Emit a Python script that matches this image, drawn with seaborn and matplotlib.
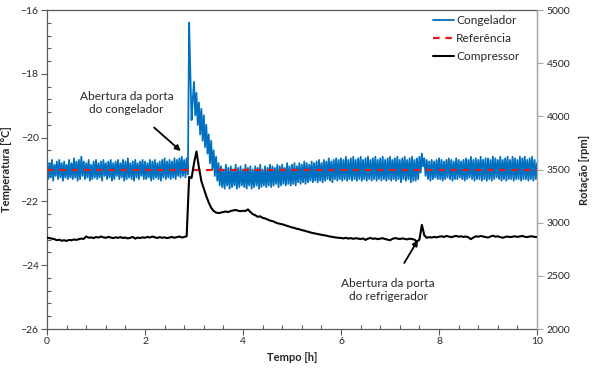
import numpy as np
import pandas as pd
import seaborn as sns
import matplotlib.pyplot as plt
from matplotlib.ticker import MultipleLocator

# Congelador temperature [°C], read every 0.025 h from 0 to 10 h (one row = 0.5 h)
tempo_congelador = np.linspace(0, 10, 401)
temp_congelador = [
    -20.75, -21.30, -20.80, -21.25, -20.70, -21.35, -20.85, -21.20, -20.75, -21.30, -20.70, -21.25, -20.80, -21.35, -20.75, -21.25, -20.85, -21.30, -20.70, -21.25,
    -20.80, -21.30, -20.65, -21.25, -20.75, -21.35, -20.70, -21.30, -20.60, -21.20, -20.75, -21.30, -20.80, -21.25, -20.70, -21.35, -20.85, -21.30, -20.75, -21.25,
    -20.70, -21.30, -20.80, -21.25, -20.75, -21.35, -20.70, -21.20, -20.80, -21.30, -20.75, -21.25, -20.70, -21.35, -20.80, -21.30, -20.75, -21.20, -20.70, -21.30,
    -20.80, -21.25, -20.70, -21.35, -20.75, -21.30, -20.65, -21.25, -20.80, -21.30, -20.75, -21.35, -20.70, -21.25, -20.80, -21.30, -20.75, -21.20, -20.70, -21.30,
    -20.75, -21.30, -20.80, -21.25, -20.70, -21.35, -20.75, -21.30, -20.70, -21.25, -20.80, -21.30, -20.75, -21.35, -20.70, -21.25, -20.65, -21.30, -20.75, -21.25,
    -20.70, -21.30, -20.75, -21.25, -20.65, -21.30, -20.70, -21.20, -20.65, -21.25, -20.60, -21.20, -20.70, -21.25, -20.65, -21.15, -16.40, -18.00, -19.45, -18.80,
    -18.25, -19.30, -18.60, -19.60, -18.90, -19.90, -19.10, -20.10, -19.30, -20.30, -19.60, -20.50, -19.90, -20.80, -20.10, -21.00, -20.40, -21.20, -20.60, -21.35,
    -20.80, -21.50, -20.90, -21.55, -21.00, -21.60, -20.85, -21.50, -20.95, -21.60, -20.90, -21.55, -21.00, -21.50, -20.85, -21.60, -20.95, -21.55, -20.90, -21.50,
    -21.00, -21.55, -20.85, -21.60, -20.95, -21.50, -20.90, -21.60, -21.00, -21.55, -20.90, -21.50, -20.95, -21.60, -20.85, -21.55, -21.00, -21.50, -20.90, -21.55,
    -20.95, -21.50, -20.85, -21.55, -20.90, -21.50, -20.95, -21.45, -20.85, -21.55, -20.90, -21.50, -20.85, -21.45, -20.95, -21.50, -20.80, -21.45, -20.90, -21.50,
    -20.85, -21.45, -20.80, -21.50, -20.90, -21.40, -20.80, -21.45, -20.85, -21.40, -20.75, -21.45, -20.80, -21.40, -20.85, -21.35, -20.75, -21.40, -20.80, -21.35,
    -20.75, -21.40, -20.70, -21.35, -20.80, -21.40, -20.70, -21.35, -20.75, -21.30, -20.65, -21.35, -20.75, -21.40, -20.70, -21.30, -20.65, -21.35, -20.70, -21.30,
    -20.65, -21.35, -20.70, -21.30, -20.60, -21.35, -20.70, -21.30, -20.65, -21.35, -20.60, -21.30, -20.70, -21.35, -20.65, -21.30, -20.60, -21.35, -20.70, -21.30,
    -20.65, -21.35, -20.60, -21.30, -20.70, -21.35, -20.65, -21.30, -20.60, -21.35, -20.70, -21.30, -20.65, -21.35, -20.60, -21.30, -20.70, -21.35, -20.65, -21.30,
    -20.60, -21.35, -20.70, -21.30, -20.65, -21.35, -20.60, -21.30, -20.70, -21.40, -20.65, -21.30, -20.60, -21.35, -20.70, -21.30, -20.65, -21.40, -20.60, -21.35,
    -20.70, -21.35, -20.65, -21.30, -20.60, -21.10, -20.50, -20.90, -20.65, -21.20, -20.70, -21.30, -20.75, -21.35, -20.70, -21.30, -20.75, -21.25, -20.70, -21.30,
    -20.65, -21.30, -20.70, -21.35, -20.75, -21.30, -20.70, -21.25, -20.65, -21.30, -20.70, -21.35, -20.75, -21.30, -20.65, -21.30, -20.70, -21.25, -20.75, -21.30,
    -20.70, -21.35, -20.65, -21.30, -20.70, -21.25, -20.60, -21.30, -20.70, -21.35, -20.65, -21.30, -20.70, -21.30, -20.60, -21.35, -20.70, -21.30, -20.65, -21.35,
    -20.65, -21.30, -20.70, -21.35, -20.60, -21.30, -20.65, -21.25, -20.70, -21.30, -20.60, -21.35, -20.70, -21.30, -20.65, -21.35, -20.60, -21.30, -20.70, -21.30,
    -20.60, -21.35, -20.65, -21.30, -20.70, -21.30, -20.60, -21.35, -20.65, -21.30, -20.60, -21.30, -20.70, -21.35, -20.65, -21.30, -20.60, -21.35, -20.70, -21.30,
    -20.80,
]

# reference setpoint
tempo_ref = [0, 10]
temp_ref = [-21.0, -21.0]

# Compressor speed [rpm], read every 0.05 h (one row = 0.5 h)
tempo_comp = np.linspace(0, 10, 201)
rpm_comp = [
    2860, 2855, 2850, 2845, 2835, 2840, 2830, 2835, 2828, 2838,
    2835, 2842, 2838, 2845, 2850, 2848, 2870, 2858, 2862, 2855,
    2865, 2860, 2870, 2862, 2858, 2866, 2860, 2855, 2862, 2858,
    2864, 2856, 2860, 2852, 2858, 2866, 2850, 2860, 2855, 2862,
    2858, 2866, 2860, 2870, 2862, 2856, 2864, 2858, 2862, 2855,
    2860, 2866, 2858, 2864, 2870, 2860, 2866, 2872, 3430, 3420,
    3560, 3670, 3520, 3390, 3320, 3250, 3190, 3140, 3110, 3095,
    3090, 3095, 3100, 3105, 3100, 3110, 3115, 3120, 3112, 3108,
    3112, 3110, 3125, 3100, 3080, 3070, 3055, 3060, 3045, 3040,
    3030, 3020, 3015, 3005, 2995, 2990, 2985, 2978, 2970, 2962,
    2955, 2950, 2942, 2938, 2930, 2925, 2918, 2912, 2905, 2900,
    2895, 2890, 2886, 2882, 2878, 2872, 2868, 2865, 2860, 2858,
    2856, 2852, 2858, 2850, 2855, 2848, 2854, 2850, 2846, 2852,
    2838, 2850, 2856, 2848, 2852, 2845, 2850, 2854, 2846, 2840,
    2835, 2848, 2855, 2850, 2846, 2852, 2848, 2843, 2850, 2846,
    2840, 2822, 2840, 2980, 2880, 2858, 2864, 2860, 2866, 2862,
    2868, 2872, 2866, 2875, 2870, 2864, 2870, 2876, 2868, 2872,
    2866, 2870, 2862, 2845, 2860, 2872, 2868, 2875, 2870, 2866,
    2860, 2870, 2878, 2868, 2872, 2864, 2858, 2866, 2870, 2864,
    2868, 2872, 2866, 2870, 2875, 2868, 2864, 2870, 2872, 2866,
    2865,
]

sns.set_style("white")
plt.rcParams['font.family'] = ['Lato', 'DejaVu Sans']

fig = plt.figure(figsize=(5.93, 3.71), dpi=100)
ax = fig.add_axes([0.0793, 0.1132, 0.8263, 0.8598])
ax2 = ax.twinx()

sns.lineplot(x=tempo_congelador, y=temp_congelador, ax=ax, color='#0070c0', lw=1.3, label='Congelador', legend=False)
sns.lineplot(x=tempo_ref, y=temp_ref, ax=ax, color='#e31a1c', lw=1.6, label='Referência', legend=False)
ax.lines[-1].set_linestyle((0, (3, 2.5)))
sns.lineplot(x=tempo_comp, y=rpm_comp, ax=ax2, color='black', lw=1.5, label='Compressor', legend=False)

ax.set_xlim(0, 10)
ax.set_ylim(-26, -16)
ax2.set_ylim(2000, 5000)
ax.xaxis.set_major_locator(MultipleLocator(2))
ax.xaxis.set_minor_locator(MultipleLocator(0.4))
ax.yaxis.set_major_locator(MultipleLocator(2))
ax.yaxis.set_minor_locator(MultipleLocator(0.4))
ax2.yaxis.set_major_locator(MultipleLocator(500))

ax.tick_params(which='major', direction='out', length=4, width=0.8, color='#595959', labelsize=7.5, pad=2)
ax.tick_params(which='minor', direction='in', length=3, width=0.8, color='#595959')
ax.tick_params(axis='both', which='both', bottom=True, left=True)
ax2.tick_params(which='major', direction='out', length=4, width=0.8, color='#a6a6a6', labelsize=7.5, pad=3)

for side in ['left', 'bottom', 'top']:
    ax.spines[side].set_color('#595959')
    ax.spines[side].set_linewidth(0.9)
ax2.spines['right'].set_color('#a6a6a6')
ax2.spines['right'].set_linewidth(0.9)
for side in ['left', 'bottom', 'top']:
    ax2.spines[side].set_visible(False)

ax.set_xlabel('Tempo [h]', fontsize=8, fontweight='bold', labelpad=4)
ax.set_ylabel('Temperatura [°C]', fontsize=8, fontweight='bold', labelpad=6)
ax2.set_ylabel('Rotação [rpm]', fontsize=8, fontweight='bold', labelpad=6)

ax.annotate('Abertura da porta\ndo congelador', xy=(2.73, -20.42), xytext=(1.62, -18.92),
            ha='center', va='center', fontsize=8.6,
            arrowprops=dict(arrowstyle='-|>', color='black', lw=1.3, shrinkA=10, shrinkB=0,
                            mutation_scale=8))
ax.annotate('Abertura da porta\ndo refrigerador', xy=(7.57, -23.21), xytext=(6.96, -24.78),
            ha='center', va='center', fontsize=8.6,
            arrowprops=dict(arrowstyle='-|>', color='black', lw=1.3, shrinkA=10, shrinkB=0,
                            mutation_scale=8))

h1, l1 = ax.get_legend_handles_labels()
h2, l2 = ax2.get_legend_handles_labels()
ax2.legend(h1 + h2, l1 + l2, loc='upper right', frameon=False, fontsize=8.6,
           handlelength=1.8, handletextpad=0.15, labelspacing=0.6,
           borderaxespad=0, bbox_to_anchor=(0.974, 1.0))

fig.savefig('out.png', dpi=100)
